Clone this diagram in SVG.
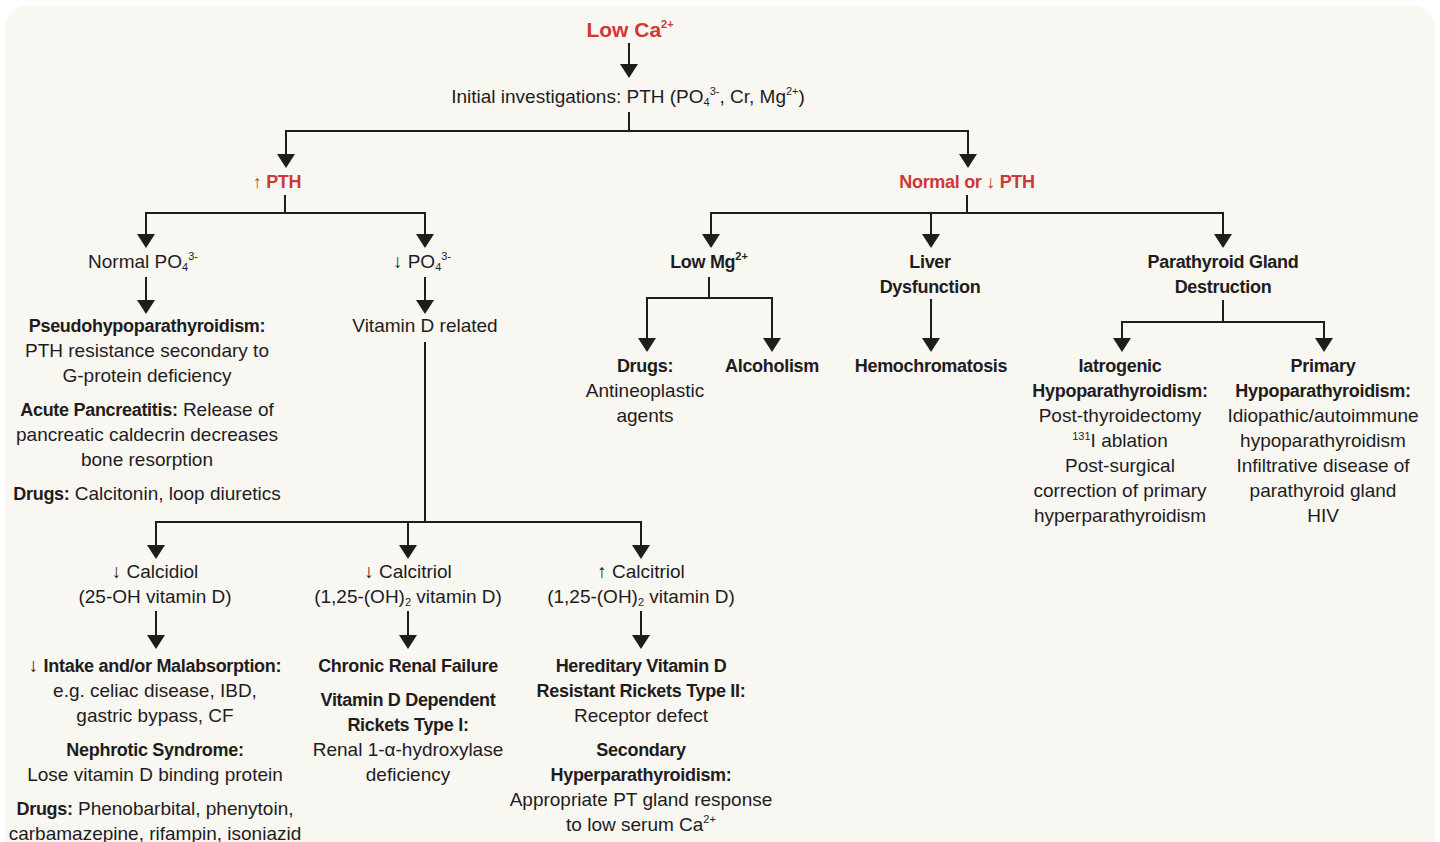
<svg xmlns="http://www.w3.org/2000/svg" width="1440" height="842" viewBox="0 0 1440 842">
<defs>
<marker id="ah" markerUnits="userSpaceOnUse" viewBox="0 0 14 18" refX="12" refY="9" markerWidth="14" markerHeight="18" orient="auto">
<path d="M0,0 L14,9 L0,18 Z" fill="#1f1c1d"/>
</marker>
<style>
text{font-family:"Liberation Sans",Arial,sans-serif;font-size:19px;fill:#1f1c1d;text-anchor:middle}
.b{font-weight:bold;font-size:18px;letter-spacing:-0.3px}
.r{fill:#cf3834;font-weight:bold;font-size:18px;letter-spacing:-0.3px}
.big{font-size:21px;letter-spacing:0}
.s{font-size:11px;letter-spacing:0}
.ln{fill:none;stroke:#1f1c1d;stroke-width:2}
.ar{fill:none;stroke:#1f1c1d;stroke-width:2;marker-end:url(#ah)}
</style>
</defs>
<rect x="5" y="6" width="1430" height="860" rx="22" fill="#f8f7f1"/>

<g id="connectors">
<line class="ar" x1="629" y1="43" x2="629" y2="76"/>
<polyline class="ln" points="629,112 629,131"/>
<polyline class="ar" points="629,131 286,131 286,166"/>
<polyline class="ar" points="629,131 968,131 968,166"/>
<line class="ln" x1="285" y1="195" x2="285" y2="213"/>
<polyline class="ar" points="285,213 146,213 146,246"/>
<polyline class="ar" points="285,213 425,213 425,246"/>
<line class="ar" x1="146" y1="277" x2="146" y2="312"/>
<line class="ar" x1="425" y1="277" x2="425" y2="312"/>
<line class="ln" x1="425" y1="342" x2="425" y2="522"/>
<polyline class="ar" points="425,522 156,522 156,557"/>
<line class="ar" x1="408" y1="522" x2="408" y2="557"/>
<polyline class="ar" points="425,522 641,522 641,557"/>
<line class="ar" x1="156" y1="611" x2="156" y2="647"/>
<line class="ar" x1="408" y1="611" x2="408" y2="647"/>
<line class="ar" x1="641" y1="611" x2="641" y2="647"/>
<line class="ln" x1="967" y1="195" x2="967" y2="213"/>
<polyline class="ar" points="967,213 711,213 711,246"/>
<line class="ar" x1="931" y1="213" x2="931" y2="246"/>
<polyline class="ar" points="967,213 1223,213 1223,246"/>
<line class="ln" x1="709" y1="277" x2="709" y2="298"/>
<polyline class="ar" points="709,298 647,298 647,350"/>
<polyline class="ar" points="709,298 772,298 772,350"/>
<line class="ar" x1="931" y1="299" x2="931" y2="350"/>
<line class="ln" x1="1223" y1="300" x2="1223" y2="322"/>
<polyline class="ar" points="1223,322 1122,322 1122,350"/>
<polyline class="ar" points="1223,322 1324,322 1324,350"/>
</g>

<g id="low-ca"><text class="r big" x="630" y="37">Low Ca<tspan class="s" dy="-9">2+</tspan></text></g>
<g id="initial"><text x="628" y="103">Initial investigations: PTH (PO<tspan class="s" dy="3">4</tspan><tspan class="s" dy="-11">3-</tspan><tspan dy="8">, Cr, Mg</tspan><tspan class="s" dy="-8">2+</tspan><tspan dy="8">)</tspan></text></g>
<g id="high-pth"><text class="r" x="277" y="188">↑ PTH</text></g>
<g id="normal-low-pth"><text class="r" x="967" y="188">Normal or ↓ PTH</text></g>

<g id="normal-po4"><text x="143" y="268">Normal PO<tspan class="s" dy="3">4</tspan><tspan class="s" dy="-11">3-</tspan></text></g>
<g id="low-po4"><text x="422" y="268">↓ PO<tspan class="s" dy="3">4</tspan><tspan class="s" dy="-11">3-</tspan></text></g>

<g id="normal-po4-causes">
<text class="b" x="147" y="332">Pseudohypoparathyroidism:</text>
<text x="147" y="357">PTH resistance secondary to</text>
<text x="147" y="382">G-protein deficiency</text>
<text x="147" y="416"><tspan class="b">Acute Pancreatitis:</tspan> Release of</text>
<text x="147" y="441">pancreatic caldecrin decreases</text>
<text x="147" y="466">bone resorption</text>
<text x="147" y="500"><tspan class="b">Drugs:</tspan> Calcitonin, loop diuretics</text>
</g>

<g id="vitd-related"><text x="425" y="332">Vitamin D related</text></g>

<g id="calcidiol">
<text x="155" y="578">↓ Calcidiol</text>
<text x="155" y="603">(25-OH vitamin D)</text>
</g>
<g id="low-calcitriol">
<text x="408" y="578">↓ Calcitriol</text>
<text x="408" y="603">(1,25-(OH)<tspan class="s" dy="3">2</tspan><tspan dy="-3"> vitamin D)</tspan></text>
</g>
<g id="high-calcitriol">
<text x="641" y="578">↑ Calcitriol</text>
<text x="641" y="603">(1,25-(OH)<tspan class="s" dy="3">2</tspan><tspan dy="-3"> vitamin D)</tspan></text>
</g>

<g id="calcidiol-causes">
<text x="155" y="672"><tspan>↓ </tspan><tspan class="b">Intake and/or Malabsorption:</tspan></text>
<text x="155" y="697">e.g. celiac disease, IBD,</text>
<text x="155" y="722">gastric bypass, CF</text>
<text class="b" x="155" y="756">Nephrotic Syndrome:</text>
<text x="155" y="781">Lose vitamin D binding protein</text>
<text x="155" y="815"><tspan class="b">Drugs:</tspan> Phenobarbital, phenytoin,</text>
<text x="155" y="840">carbamazepine, rifampin, isoniazid</text>
</g>

<g id="low-calcitriol-causes">
<text class="b" x="408" y="672">Chronic Renal Failure</text>
<text class="b" x="408" y="706">Vitamin D Dependent</text>
<text class="b" x="408" y="731">Rickets Type I:</text>
<text x="408" y="756">Renal 1-α-hydroxylase</text>
<text x="408" y="781">deficiency</text>
</g>

<g id="high-calcitriol-causes">
<text class="b" x="641" y="672">Hereditary Vitamin D</text>
<text class="b" x="641" y="697">Resistant Rickets Type II:</text>
<text x="641" y="722">Receptor defect</text>
<text class="b" x="641" y="756">Secondary</text>
<text class="b" x="641" y="781">Hyperparathyroidism:</text>
<text x="641" y="806">Appropriate PT gland response</text>
<text x="641" y="831">to low serum Ca<tspan class="s" dy="-8">2+</tspan></text>
</g>

<g id="low-mg"><text class="b" x="709" y="268">Low Mg<tspan class="s" dy="-8">2+</tspan></text></g>
<g id="liver">
<text class="b" x="930" y="268">Liver</text>
<text class="b" x="930" y="293">Dysfunction</text>
</g>
<g id="parathyroid">
<text class="b" x="1223" y="268">Parathyroid Gland</text>
<text class="b" x="1223" y="293">Destruction</text>
</g>

<g id="drugs-mg">
<text class="b" x="645" y="372">Drugs:</text>
<text x="645" y="397">Antineoplastic</text>
<text x="645" y="422">agents</text>
</g>
<g id="alcoholism"><text class="b" x="772" y="372">Alcoholism</text></g>
<g id="hemochromatosis"><text class="b" x="931" y="372">Hemochromatosis</text></g>

<g id="iatrogenic">
<text class="b" x="1120" y="372">Iatrogenic</text>
<text class="b" x="1120" y="397">Hypoparathyroidism:</text>
<text x="1120" y="422">Post-thyroidectomy</text>
<text x="1120" y="447"><tspan class="s" dy="-7">131</tspan><tspan dy="7">I ablation</tspan></text>
<text x="1120" y="472">Post-surgical</text>
<text x="1120" y="497">correction of primary</text>
<text x="1120" y="522">hyperparathyroidism</text>
</g>
<g id="primary">
<text class="b" x="1323" y="372">Primary</text>
<text class="b" x="1323" y="397">Hypoparathyroidism:</text>
<text x="1323" y="422">Idiopathic/autoimmune</text>
<text x="1323" y="447">hypoparathyroidism</text>
<text x="1323" y="472">Infiltrative disease of</text>
<text x="1323" y="497">parathyroid gland</text>
<text x="1323" y="522">HIV</text>
</g>
</svg>
